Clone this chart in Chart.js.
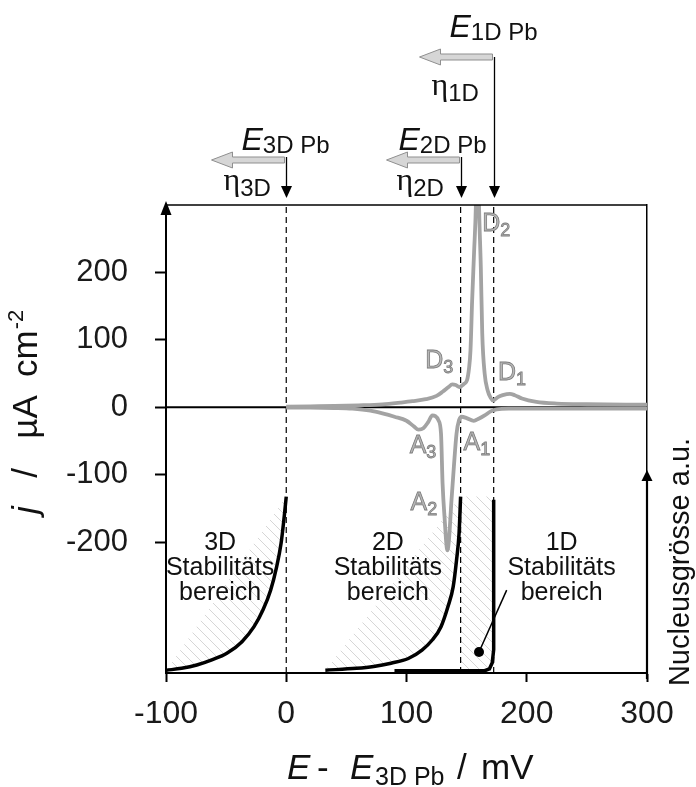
<!DOCTYPE html>
<html><head><meta charset="utf-8">
<script src="https://cdn.jsdelivr.net/npm/chart.js@4/dist/chart.umd.min.js"></script>
<style>html,body{margin:0;padding:0;background:#fff;}canvas{display:block;}</style>
</head><body>
<canvas id="c" width="696" height="787"></canvas>
<script>
// ---- data ----
const xTicks = [-100, 0, 100, 200, 300];
const yTicks = [-200, -100, 0, 100, 200];

// cyclic voltammogram, positive (desorption) branch
const potentialDes = [0, 20, 40, 60, 80, 95, 105, 116, 125, 130, 135, 138, 141, 144, 146, 148, 150.3, 152, 153.2, 154.6, 156.2, 157.7, 159, 160.3, 161.8, 163, 165, 167.5, 170, 172, 176, 180, 186, 190, 196, 208, 225, 250, 300];
const currentDes   = [1, 1.5, 2, 3, 4.5, 7, 9, 12, 17, 23, 30, 34, 33, 30, 32, 35, 40, 58, 84, 159, 230, 300, 440, 300, 208, 109, 50, 25, 14, 10, 15, 18, 20, 18, 13, 8, 5.5, 4.5, 4];
// negative (adsorption) branch
const potentialAds = [0, 20, 40, 55, 70, 80, 90, 100, 106, 110, 114, 118, 121.5, 124, 126.5, 128.7, 130, 131.6, 134, 135.3, 137.4, 139.4, 141.6, 143.7, 146, 150, 156, 160, 165, 170, 175, 185, 300];
const currentAds   = [-0.5, -0.5, -1, -2, -5, -9, -14, -20, -28, -33, -31, -22, -12, -13, -19, -39, -113, -162, -212, -197, -138, -88, -39, -19, -14, -16, -20, -17, -12, -6, -3, -2, -2];

// nucleus size (a.u.) vs potential for the 3 stability regions
const potential3D = [-99.5, -87, -74.4, -61.9, -49.4, -36.8, -26.8, -19.3, -13, -8, -4.3, -1.7, 0];
const size3D      = [0.6, 1, 1.7, 2.8, 4.2, 6.7, 9.9, 13.5, 17.7, 22.7, 27.7, 33.4, 37.7];
const potential2D = [32.5, 58.4, 72.7, 87.1, 101.5, 112.9, 121.6, 128.7, 134.5, 138.8, 141.6, 143.7, 145];
const size2D      = [0.6, 1, 1.4, 2.1, 3.1, 4.9, 7.1, 9.9, 14.2, 18.4, 24.1, 29.8, 37.7];
const potential1D = [90, 165, 169, 171.3, 172.5, 172.5];
const size1D      = [0.5, 0.5, 0.9, 2.2, 5, 37];
const hatchTop = 37.7;

// equilibrium potentials E3D Pb, E2D Pb, E1D Pb
const eqPotentials = [0, 145, 172.5];
const phaseNames = ['3D', '2D', '1D'];
const peakNames = ['D3', 'D2', 'D1', 'A3', 'A2', 'A1'];

const pts = (xs, ys) => xs.map((x, i) => ({x, y: ys[i]}));
const chord = (xs, ys) => [{x: xs[0], y: ys[0]}, {x: xs[xs.length - 1], y: ys[ys.length - 1]}];

// ---- styles ----
const SANS = '"Liberation Sans", Arial, sans-serif';
const SERIF = '"Liberation Serif", "DejaVu Serif", serif';
const GRAY = '#a3a3a3';

function hatchPattern() {
  const c = document.createElement('canvas'); c.width = 10; c.height = 10;
  const g = c.getContext('2d');
  g.strokeStyle = '#d6d6d6'; g.lineWidth = 1;
  g.beginPath();
  g.moveTo(-1, -1); g.lineTo(11, 11);
  g.moveTo(-1, 9); g.lineTo(1, 11);
  g.moveTo(9, -1); g.lineTo(11, 1);
  g.stroke();
  return g.createPattern(c, 'repeat');
}
const hatch = hatchPattern();

function rich(ctx, parts, x, y, align) {
  let w = 0;
  parts.forEach(p => { ctx.font = p[1]; w += ctx.measureText(p[0]).width; });
  let cx = align === 'center' ? x - w / 2 : x;
  parts.forEach(p => {
    ctx.font = p[1];
    ctx.fillText(p[0], cx, y + (p[2] || 0));
    if (p[3]) ctx.strokeText(p[0], cx, y + (p[2] || 0));
    cx += ctx.measureText(p[0]).width;
  });
}
function tri(ctx, a, b, c) {
  ctx.beginPath(); ctx.moveTo(a[0], a[1]); ctx.lineTo(b[0], b[1]); ctx.lineTo(c[0], c[1]); ctx.closePath(); ctx.fill();
}

// positions of the annotation groups above the plot
const markerLayout = [
  {top: 157, grayY: 160, eOff: -45, eBase: 150, etaOff: -63, etaBase: 190},
  {top: 157, grayY: 160, eOff: -63, eBase: 150, etaOff: -65, etaBase: 190},
  {top: 57,  grayY: 57,  eOff: -45, eBase: 37,  etaOff: -63, etaBase: 95}
];
const peakLayout = [[115.5, 59], [163, 262], [176, 40], [102.6, -68], [103.4, -153], [147.4, -64]];
const regionLayout = [-55, 84.5, 229];

const annot = {
  id: 'annot',
  afterDraw(chart) {
    const ctx = chart.ctx, xs = chart.scales.x, ys = chart.scales.y, y2 = chart.scales.y2, ca = chart.chartArea;
    ctx.save();
    ctx.fillStyle = '#000'; ctx.strokeStyle = '#000';
    // top border
    ctx.lineWidth = 1.5;
    ctx.beginPath(); ctx.moveTo(ca.left, ca.top); ctx.lineTo(ca.right, ca.top); ctx.stroke();
    // left axis arrow head
    tri(ctx, [ca.left, ca.top - 4], [ca.left - 5.5, ca.top + 10], [ca.left + 5.5, ca.top + 10]);
    // right (nucleus size) axis arrow
    const ay = y2.getPixelForValue(43.4);
    ctx.lineWidth = 2.2;
    ctx.beginPath(); ctx.moveTo(ca.right, ca.bottom + 6); ctx.lineTo(ca.right, ay + 8); ctx.stroke();
    tri(ctx, [ca.right, ay], [ca.right - 5.5, ay + 11], [ca.right + 5.5, ay + 11]);

    // x tick labels
    ctx.fillStyle = '#1a1a1a'; ctx.textAlign = 'center'; ctx.textBaseline = 'alphabetic';
    ctx.font = '32px ' + SANS;
    xTicks.forEach(v => ctx.fillText(String(v), xs.getPixelForValue(v), 723));
    ctx.textAlign = 'left';

    // equilibrium potential markers
    eqPotentials.forEach((E, i) => {
      const L = markerLayout[i];
      const px = Math.round(xs.getPixelForValue(E)) + 0.5;
      ctx.strokeStyle = '#000'; ctx.fillStyle = '#000'; ctx.lineWidth = 1.3;
      ctx.beginPath(); ctx.moveTo(px, L.top); ctx.lineTo(px, 190); ctx.stroke();
      tri(ctx, [px, 198], [px - 5.5, 186], [px + 5.5, 186]);
      // gray overpotential arrow (pointing left)
      const x0 = px - 2, gy = L.grayY;
      ctx.beginPath();
      ctx.moveTo(x0, gy - 3); ctx.lineTo(x0 - 52, gy - 3); ctx.lineTo(x0 - 52, gy - 8);
      ctx.lineTo(x0 - 73, gy); ctx.lineTo(x0 - 52, gy + 8); ctx.lineTo(x0 - 52, gy + 3);
      ctx.lineTo(x0, gy + 3); ctx.closePath();
      ctx.fillStyle = '#d6d6d6'; ctx.fill();
      ctx.strokeStyle = '#8f8f8f'; ctx.lineWidth = 1; ctx.stroke();
      ctx.fillStyle = '#111';
      rich(ctx, [['E', 'italic 32px ' + SANS], [phaseNames[i] + ' Pb', '24px ' + SANS, 3]], px + L.eOff, L.eBase, 'left');
      rich(ctx, [['\u03B7', '32px ' + SERIF], [phaseNames[i], '24px ' + SANS, 6]], px + L.etaOff, L.etaBase, 'left');
    });

    // stability region labels
    ctx.fillStyle = '#111'; ctx.textAlign = 'center'; ctx.textBaseline = 'middle';
    ctx.font = '25px ' + SANS;
    regionLayout.forEach((xv, i) => {
      const px = xs.getPixelForValue(xv);
      ctx.fillText(phaseNames[i], px, y2.getPixelForValue(27.8));
      ctx.fillText('Stabilitäts', px, y2.getPixelForValue(22.4));
      ctx.fillText('bereich', px, y2.getPixelForValue(17.1));
    });

    // peak labels (gray outlined)
    ctx.textAlign = 'left'; ctx.textBaseline = 'alphabetic';
    ctx.fillStyle = '#b8b8b8'; ctx.strokeStyle = '#7c7c7c'; ctx.lineWidth = 0.8;
    peakNames.forEach((n, i) => {
      const p = peakLayout[i];
      rich(ctx, [[n[0], '25px ' + SANS, 0, true], [n.slice(1), '18px ' + SANS, 5, true]],
        xs.getPixelForValue(p[0]), ys.getPixelForValue(p[1]), 'left');
    });

    // axis titles
    ctx.fillStyle = '#111';
    // x title: E - E3D Pb / mV
    const T = '35px ' + SANS, TI = 'italic 35px ' + SANS, TS = '25px ' + SANS;
    ctx.font = TI; ctx.fillText('E', 287, 779);
    ctx.font = T;  ctx.fillText('-', 317, 779);
    ctx.font = TI; ctx.fillText('E', 350, 779);
    ctx.font = TS; ctx.fillText('3D Pb', 375, 785);
    ctx.font = T;  ctx.fillText('/', 457, 779);
    ctx.fillText('mV', 481, 779);
    // y title: j / µA cm-2 (rotated)
    ctx.save(); ctx.translate(37, 0); ctx.rotate(-Math.PI / 2);
    ctx.textAlign = 'center';
    ctx.font = TI; ctx.fillText('j', -510, 0);
    ctx.font = T;  ctx.fillText('/', -473, 0);
    ctx.fillText('\u00B5A', -417, 0);
    ctx.textAlign = 'left';
    const cmW = ctx.measureText('cm').width;
    ctx.fillText('cm', -377, 0);
    ctx.font = '22px ' + SANS; ctx.fillText('-2', -377 + cmW + 1, -14);
    ctx.restore();
    // right title
    ctx.save(); ctx.translate(689, 562); ctx.rotate(-Math.PI / 2);
    ctx.textAlign = 'center'; ctx.font = '29px ' + SANS;
    ctx.fillText('Nucleusgrösse a.u.', 0, 0);
    ctx.restore();
    ctx.restore();
  }
};

const line = (data, extra) => Object.assign({data, pointRadius: 0, borderColor: '#000', borderWidth: 2, fill: false, tension: 0}, extra);

const datasets = [
  line([{x: 160.3, y: 4.5}, {x: 183.3, y: 17.7}], {yAxisID: 'y2', borderWidth: 1.5, pointRadius: [5, 0], pointBackgroundColor: '#000', pointBorderWidth: 0, order: 0}),
  line(pts(potential1D, size1D), {yAxisID: 'y2', borderWidth: 3.5, order: 1}),
  line(pts(potential2D, size2D), {yAxisID: 'y2', borderWidth: 3.5, cubicInterpolationMode: 'monotone', order: 1}),
  line(pts(potential3D, size3D), {yAxisID: 'y2', borderWidth: 3.5, cubicInterpolationMode: 'monotone', order: 1}),
  line(pts(potentialDes, currentDes), {borderColor: GRAY, borderWidth: 3.8, cubicInterpolationMode: 'monotone', order: 2}),
  line(pts(potentialAds, currentAds), {borderColor: GRAY, borderWidth: 3.8, cubicInterpolationMode: 'monotone', order: 2}),
  line([{x: -100, y: 0}, {x: 300, y: 0}], {borderWidth: 2, order: 3}),
  ...eqPotentials.map(E => line([{x: E, y: 0}, {x: E, y: 100}], {yAxisID: 'y2', borderWidth: 1.2, borderDash: [6, 4], order: 4}))
];
// hatched stability regions: between each nucleus-size curve and its chord
const c3 = datasets.length;
datasets.push(line(chord(potential3D, size3D), {yAxisID: 'y2', borderWidth: 0, borderColor: 'rgba(0,0,0,0)', order: 6}));
datasets.push(line(pts(potential3D, size3D), {yAxisID: 'y2', borderWidth: 0, borderColor: 'rgba(0,0,0,0)', cubicInterpolationMode: 'monotone', fill: c3, backgroundColor: hatch, order: 5}));
const c2 = datasets.length;
datasets.push(line(chord(potential2D, size2D), {yAxisID: 'y2', borderWidth: 0, borderColor: 'rgba(0,0,0,0)', order: 6}));
datasets.push(line(pts(potential2D, size2D), {yAxisID: 'y2', borderWidth: 0, borderColor: 'rgba(0,0,0,0)', cubicInterpolationMode: 'monotone', fill: c2, backgroundColor: hatch, order: 5}));
datasets.push(line([{x: 145, y: 0.5}, {x: 172.5, y: 0.5}], {yAxisID: 'y2', borderWidth: 0, borderColor: 'rgba(0,0,0,0)', fill: {value: hatchTop}, backgroundColor: hatch, order: 5}));

new Chart(document.getElementById('c'), {
  type: 'line',
  data: {datasets},
  options: {
    responsive: false, animation: false, devicePixelRatio: 1,
    layout: {padding: {top: 205, right: 0, left: 0, bottom: 0}},
    plugins: {legend: {display: false}, tooltip: {enabled: false}},
    scales: {
      x: {
        type: 'linear', min: -100, max: 300,
        afterFit: s => { s.height = 114; },
        afterBuildTicks: s => { s.ticks = xTicks.map(v => ({value: v})); },
        ticks: {display: false},
        grid: {drawOnChartArea: false, tickLength: 9, tickColor: '#000', tickWidth: 2},
        border: {color: '#000', width: 2}
      },
      y: {
        min: -394, max: 300,
        afterFit: s => { s.width = 166; },
        afterBuildTicks: s => { s.ticks = yTicks.map(v => ({value: v})); },
        ticks: {callback: v => String(v), font: {family: SANS, size: 31}, color: '#1a1a1a', padding: 27, autoSkip: false},
        grid: {drawOnChartArea: false, tickLength: 11, tickColor: '#000', tickWidth: 2},
        border: {color: '#000', width: 2}
      },
      y2: {
        position: 'right', min: 0, max: 100,
        afterFit: s => { s.width = 49; },
        ticks: {display: false},
        grid: {drawOnChartArea: false, drawTicks: false},
        border: {color: '#000', width: 1.5}
      }
    }
  },
  plugins: [annot]
});
</script>
</body></html>
